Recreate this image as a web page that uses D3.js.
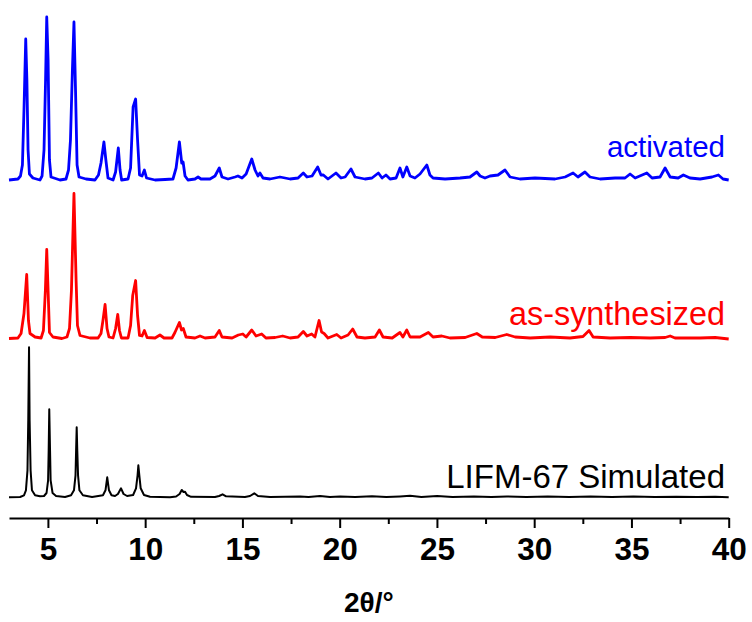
<!DOCTYPE html>
<html><head><meta charset="utf-8">
<script src="https://cdn.jsdelivr.net/npm/d3@7"></script>
<style>body{margin:0;background:#fff}svg{display:block}</style>
</head><body><svg id="c" width="752" height="622"></svg>
<script>
// 2θ range and ticks
const xDomain = [3, 40];
const majorTicks = [5, 10, 15, 20, 25, 30, 35, 40];
const minorTicks = [7.5, 12.5, 17.5, 22.5, 27.5, 32.5, 37.5];
const seriesNames = ["LIFM-67 Simulated", "as-synthesized", "activated"];
const seriesColors = ["#000000", "#ff0000", "#0000ff"];
const seriesOffsets = [20.7, 179.5, 338];

// [2θ, intensity (a.u.)]
const simulated = [
[3.0,0],[3.57,0.3],[3.77,2],[3.87,7],[3.95,27],[3.99,77],[4.03,150],[4.06,77],[4.11,27],[4.18,7],[4.34,2],[4.59,1],
[4.80,1.3],[4.93,4.3],[5.01,17],[5.04,47],[5.07,88],[5.11,47],[5.14,17],[5.24,4.3],[5.42,1.3],[5.88,0.3],
[6.19,2],[6.34,7],[6.42,22],[6.45,47],[6.48,70],[6.51,47],[6.55,22],[6.62,7],[6.80,2],[7.27,0.3],
[7.83,2],[7.96,7],[8.05,20],[8.14,7],[8.27,2],
[8.45,1.3],[8.60,3.3],[8.76,9],[8.89,3.3],[9.07,1.3],
[9.38,2.3],[9.53,9],[9.61,22],[9.65,32],[9.70,22],[9.77,9],[9.94,2.3],[10.25,0.5],[11.28,0],
[11.59,0.8],[11.77,3.3],[11.88,7.3],[11.97,5.3],[12.05,5.6],[12.15,2.3],[12.36,0.5],[13.59,0.3],
[13.80,1.3],[13.98,3],[14.16,1],[15.13,0.3],
[15.39,1.3],[15.61,4],[15.80,1.3],[16.42,0.3],
[17.96,0.8],[18.4,0.3],[18.99,1.2],[19.5,0.3],[20.02,0.9],[20.8,0.3],[21.66,1.1],[22.4,0.3],[23.1,0.9],[23.62,1.5],[24.2,0.4],[25.01,1.2],[25.8,0.3],
[26.9,0.8],[27.8,0.3],[28.6,0.9],[29.6,0.3],[30.7,0.7],[31.8,0.3],[32.9,0.8],[34.0,0.3],[35.1,0.7],[36.2,0.3],[37.3,0.6],[38.4,0.3],[39.3,0.6],[40.0,0]
];
const asSynthesized = [
[3.0,0],[3.46,0.5],[3.62,5],[3.77,25],[3.91,64],[4.00,18],[4.08,5],[4.34,1.5],[4.65,0.5],
[4.77,8],[4.87,48],[4.94,89],[5.01,48],[5.08,6],[5.26,1.5],[5.72,0],
[5.98,1.5],[6.11,10],[6.21,48],[6.34,145],[6.45,58],[6.52,13],[6.65,3],[7.16,0.5],
[7.58,0.5],[7.73,5],[7.83,18],[7.94,34],[8.04,10],[8.14,1.5],[8.35,0.5],
[8.48,10],[8.59,24],[8.68,8],[8.78,0.5],[9.12,0.5],
[9.25,13],[9.36,43],[9.51,58],[9.61,23],[9.71,3],[9.84,2.5],[9.96,8],[10.10,1],[10.51,0.5],
[10.76,3.5],[10.97,0.5],[11.38,0.5],[11.53,6],[11.76,16],[11.87,8.5],[11.96,10],[12.10,1.5],[12.56,0.5],
[12.82,2.5],[13.08,0.5],[13.59,1.5],[13.81,8],[13.95,1.5],[14.47,0.5],[14.79,3.5],[15.02,4.5],[15.19,1.5],
[15.48,8.5],[15.70,2.5],[15.99,4.5],[16.21,0.5],[16.68,1],[17.07,2.5],[17.45,0.5],[17.86,1.5],
[18.13,7],[18.32,2.5],[18.56,4.5],[18.73,1.5],[18.94,18],[19.07,6.5],[19.20,5],[19.40,0.5],
[19.85,4],[20.07,0.5],[20.43,3.5],[20.67,9.5],[20.89,1.5],[21.30,0.5],[21.82,1.5],[22.04,8.5],[22.23,1.5],
[22.70,0.5],[23.10,6],[23.25,1.5],[23.45,8.5],[23.62,1.5],[24.13,1.5],[24.56,6],[24.80,1.5],[25.25,2.5],
[25.67,0.5],[26.45,1],[27.05,5],[27.33,1.5],[28.00,1],[28.59,4],[29.02,1.5],[29.79,0.5],[30.82,1.5],
[31.84,0.5],[32.51,2],[32.82,8],[33.03,1.5],[33.90,0.5],[34.93,1],[35.96,0.5],[36.73,1],[36.99,2.5],
[37.24,0.5],[38.53,0.5],[39.30,1],[40.0,-0.5]
];
const activated = [
[3.0,0],[3.46,1],[3.59,4],[3.69,15],[3.77,70],[3.86,141],[3.92,100],[3.98,30],[4.05,6],[4.23,2],[4.59,0],
[4.70,4],[4.80,30],[4.88,100],[4.94,163],[5.01,120],[5.08,20],[5.16,3],[5.62,0],
[5.93,1],[6.06,10],[6.16,40],[6.26,110],[6.34,158],[6.42,90],[6.50,15],[6.60,3],[6.96,1],[7.42,0],
[7.60,5],[7.73,17],[7.88,38],[7.98,20],[8.09,2],[8.35,0],
[8.48,8],[8.62,32],[8.71,10],[8.79,0],[9.12,1],
[9.25,12],[9.38,73],[9.51,81],[9.61,40],[9.71,5],[9.84,4],[9.96,10],[10.07,2],[10.51,0],[11.02,0.5],
[11.43,1],[11.59,12],[11.76,38],[11.88,17],[11.95,18],[12.05,4],[12.20,0],[12.56,1],[12.72,3],[12.87,1],
[13.33,1],[13.59,4],[13.81,12],[13.95,3],[14.26,1],[14.62,3],[14.77,4],[14.98,2],[15.19,6],[15.48,21],
[15.65,10],[15.80,4],[15.90,7],[16.06,2],[16.42,1],[16.93,3],[17.45,1],[17.86,2],[18.13,7],[18.32,3],
[18.58,4],[18.87,13],[19.04,5],[19.16,5],[19.40,1],[19.81,7],[20.07,2],[20.28,3],[20.58,11],[20.79,3],
[21.30,1],[21.66,2],[21.99,7],[22.18,2],[22.38,5],[22.59,1],[22.90,2],[23.10,12],[23.25,3],[23.45,13],
[23.62,4],[23.87,2],[24.13,6],[24.48,15],[24.64,5],[24.80,2],[25.42,1],[26.19,2],[26.70,3],[27.05,8],
[27.22,4],[27.47,2],[27.73,4],[28.14,5],[28.50,10],[28.76,3],[29.27,1],[30.04,2],[30.56,1.5],[31.07,1],
[31.59,3],[32.00,7],[32.25,3],[32.61,8],[32.87,3],[33.39,1],[34.16,2],[34.67,2],[34.93,6],[35.19,2],
[35.79,7],[36.06,2],[36.47,3],[36.73,12],[36.99,3],[37.40,2],[37.67,5],[38.01,2],[38.53,1],[39.14,3],
[39.47,5],[39.71,1],[40.0,0]
];
const seriesData = [simulated, asSynthesized, activated];
const labelBaselines = [487.5, 325, 157];
const labelSizes = [33, 32.4, 29.5];

const svg = d3.select("#c");
const x = d3.scaleLinear().domain(xDomain).range([9, 728.7]);
const y = d3.scaleLinear().domain([0, 510]).range([518, 8]);
const font = "'Liberation Sans', Arial, sans-serif";

seriesData.forEach((data, i) => {
  const line = d3.line().x(d => x(d[0])).y(d => y(d[1] + seriesOffsets[i]));
  svg.append("path").attr("d", line(data)).attr("fill", "none")
    .attr("stroke", seriesColors[i]).attr("stroke-width", i === 0 ? 2 : 2.8)
    .attr("stroke-linejoin", "round");
  svg.append("text").attr("x", 725).attr("y", labelBaselines[i])
    .attr("text-anchor", "end").attr("font-family", font).attr("font-size", labelSizes[i])
    .attr("fill", seriesColors[i]).text(seriesNames[i]);
});

const gx = svg.append("g").attr("transform", "translate(0,518)");
gx.call(d3.axisBottom(x).tickValues(majorTicks).tickSize(10).tickSizeOuter(0).tickPadding(9.5).tickFormat(d3.format("d")));
const gm = svg.append("g").attr("transform", "translate(0,518)");
gm.call(d3.axisBottom(x).tickValues(minorTicks).tickSize(6).tickSizeOuter(0).tickFormat(""));
gm.select(".domain").remove();
svg.selectAll(".tick line").attr("stroke", "#000").attr("stroke-width", 2);
gx.select(".domain").attr("stroke", "#000").attr("stroke-width", 2);
gx.selectAll(".tick text").attr("font-family", font).attr("font-size", 31.5)
  .attr("font-weight", "bold").attr("fill", "#000");

const xr = x.range();
const title = svg.append("text").attr("x", (xr[0] + xr[1]) / 2).attr("y", 612).attr("text-anchor", "middle")
  .attr("font-family", font).attr("font-size", 28).attr("font-weight", "bold").attr("fill", "#000");
title.append("tspan").text("2");
title.append("tspan").text("θ/°");
</script></body></html>
